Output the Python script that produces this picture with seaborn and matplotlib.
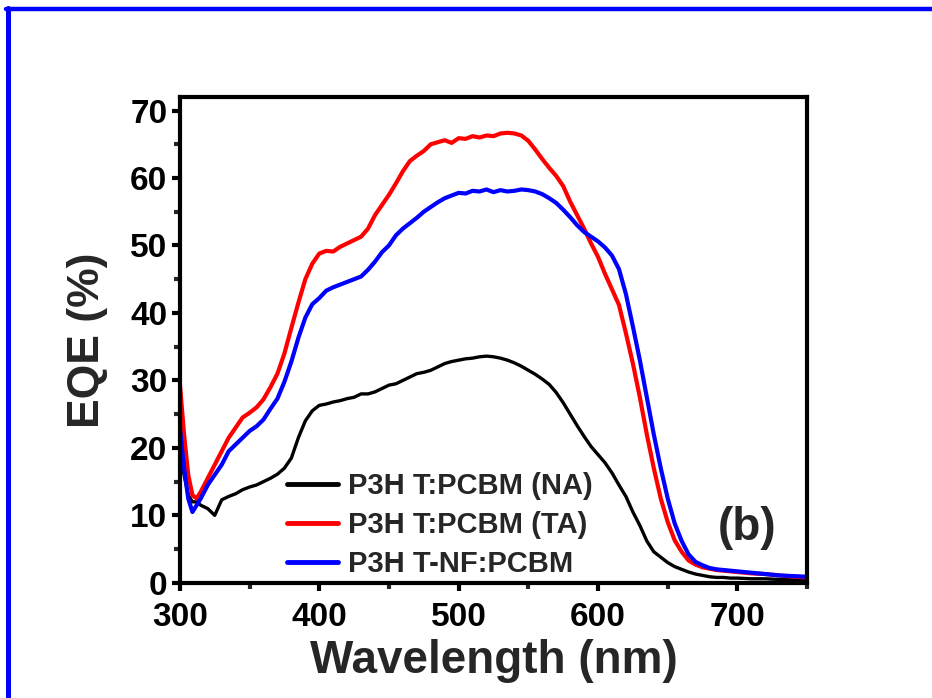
import matplotlib
matplotlib.use("Agg")
import matplotlib.pyplot as plt
from matplotlib.lines import Line2D
from matplotlib.ticker import MultipleLocator
import numpy as np
import pandas as pd
import seaborn as sns

# wavelength grid (nm)
wavelength = [300, 303, 306, 309, 312, 315, 320, 325, 330, 335, 340, 345, 350, 355,
              360, 365, 370, 375, 380, 385, 390, 395, 400, 405, 410, 415, 420, 425,
              430, 435, 440, 445, 450, 455, 460, 465, 470, 475, 480, 485, 490, 495,
              500, 505, 510, 515, 520, 525, 530, 535, 540, 545, 550, 555, 560, 565,
              570, 575, 580, 585, 590, 595, 600, 605, 610, 615, 620, 625, 630, 635,
              640, 645, 650, 655, 660, 665, 670, 675, 680, 685, 690, 695, 700, 710,
              720, 730, 740, 750]

eqe_na = [20.0, 16.0, 13.0, 12.0, 12.0, 11.5, 11.0, 10.0, 12.3, 12.8, 13.2, 13.8, 14.2, 14.5,
          15.0, 15.5, 16.1, 17.0, 18.5, 21.5, 24.0, 25.5, 26.3, 26.5, 26.8, 27.0, 27.3, 27.5,
          28.0, 28.0, 28.3, 28.8, 29.3, 29.5, 30.0, 30.5, 31.0, 31.2, 31.5, 32.0, 32.5, 32.8,
          33.0, 33.2, 33.3, 33.5, 33.6, 33.5, 33.3, 33.0, 32.6, 32.1, 31.5, 30.9, 30.2, 29.4,
          28.2, 26.7, 25.0, 23.3, 21.7, 20.2, 19.0, 17.8, 16.3, 14.5, 12.8, 10.5, 8.5, 6.2,
          4.6, 3.8, 3.0, 2.4, 2.0, 1.6, 1.3, 1.1, 0.9, 0.8, 0.8, 0.7, 0.7, 0.6,
          0.6, 0.5, 0.5, 0.5]

eqe_ta = [29.5, 22.0, 16.0, 13.0, 12.5, 13.5, 15.5, 17.5, 19.5, 21.5, 23.0, 24.5, 25.2, 26.0,
          27.2, 29.0, 31.0, 34.0, 37.8, 41.5, 45.0, 47.3, 48.8, 49.2, 49.1, 49.8, 50.3, 50.8,
          51.3, 52.5, 54.5, 56.0, 57.5, 59.2, 61.0, 62.5, 63.3, 64.0, 65.0, 65.3, 65.6, 65.2,
          65.9, 65.8, 66.2, 66.0, 66.3, 66.2, 66.6, 66.7, 66.6, 66.3, 65.5, 64.2, 62.8, 61.5,
          60.3, 58.8, 56.5, 54.5, 52.5, 50.3, 48.3, 45.8, 43.5, 41.2, 37.0, 32.5, 27.5, 22.0,
          17.0, 12.5, 9.0, 6.3, 4.6, 3.3, 2.7, 2.3, 2.1, 1.9, 1.8, 1.7, 1.6, 1.4,
          1.3, 1.1, 0.9, 0.8]

eqe_nf = [23.0, 17.0, 12.5, 10.5, 11.5, 12.5, 14.5, 16.0, 17.5, 19.5, 20.5, 21.5, 22.5, 23.2,
          24.2, 25.8, 27.3, 29.8, 32.8, 36.3, 39.3, 41.3, 42.2, 43.3, 43.8, 44.2, 44.6, 45.0,
          45.4, 46.4, 47.6, 49.0, 50.0, 51.5, 52.5, 53.3, 54.1, 55.0, 55.7, 56.4, 57.0, 57.4,
          57.8, 57.7, 58.1, 58.0, 58.3, 57.9, 58.2, 58.0, 58.1, 58.3, 58.2, 58.0, 57.6, 57.0,
          56.3, 55.3, 54.2, 53.0, 52.0, 51.3, 50.6, 49.7, 48.5, 46.5, 42.8, 38.0, 33.0, 27.5,
          22.0, 17.0, 12.5, 8.8, 6.2, 4.2, 3.1, 2.6, 2.2, 2.0, 1.9, 1.8, 1.7, 1.5,
          1.3, 1.1, 1.0, 0.9]

labels = ["P3H T:PCBM (NA)", "P3H T:PCBM (TA)", "P3H T-NF:PCBM"]
colors = ["#000000", "#ff0000", "#0000ff"]
widths = [2.4, 3.0, 3.0]

df = pd.DataFrame({"Wavelength": wavelength, labels[0]: eqe_na,
                   labels[1]: eqe_ta, labels[2]: eqe_nf})

sns.set_theme(style="ticks")
plt.rcParams['font.family'] = ['Liberation Sans', 'DejaVu Sans']
plt.rcParams['font.weight'] = 'bold'

fig = plt.figure(figsize=(9.32, 6.98), dpi=100)
ax = fig.add_axes([0.193, 0.165, 0.673, 0.696])

for lab, col, lw in zip(labels, colors, widths):
    sns.lineplot(data=df, x="Wavelength", y=lab, color=col, linewidth=lw, label=lab, ax=ax)

ax.set_xlim(300, 750)
ax.set_ylim(0, 72)
ax.xaxis.set_major_locator(MultipleLocator(100))
ax.xaxis.set_minor_locator(MultipleLocator(50))
ax.yaxis.set_major_locator(MultipleLocator(10))
ax.yaxis.set_minor_locator(MultipleLocator(5))
ax.set_xticks([300, 400, 500, 600, 700])

for sp in ax.spines.values():
    sp.set_linewidth(3)
    sp.set_color("black")
ax.tick_params(which="major", direction="out", length=6, width=3, labelsize=24,
               top=False, right=False, colors="black")
ax.tick_params(axis="x", which="major", pad=8)
ax.tick_params(axis="y", which="major", pad=3)
ax.tick_params(which="minor", direction="out", length=4, width=3, top=False, right=False)
for t in ax.get_xticklabels() + ax.get_yticklabels():
    t.set_fontweight("bold")

ax.set_xlabel("Wavelength (nm)", fontsize=33, fontweight="bold", labelpad=4)
ax.set_ylabel("EQE (%)", fontsize=32, fontweight="bold", labelpad=16)

ax.text(707, 8.1, "(b)", fontsize=33, fontweight="bold", ha="center", va="center")

leg = ax.legend(loc="lower left", bbox_to_anchor=(0.17, 0.01), frameon=False,
                prop={"size": 21, "weight": "bold"}, handlelength=1.75,
                handletextpad=0.35, labelspacing=0.38, borderpad=0, borderaxespad=0)
for h in leg.get_lines():
    h.set_linewidth(3.5)

# blue frame of the original panel (top and left edges)
fig.add_artist(Line2D([0.0065, 1.0], [0.987, 0.987], transform=fig.transFigure,
                      color="#0000ff", linewidth=3.2))
fig.add_artist(Line2D([0.0085, 0.0085], [0.0, 0.989], transform=fig.transFigure,
                      color="#0000ff", linewidth=3.6))

fig.savefig("out.png", dpi=100)
